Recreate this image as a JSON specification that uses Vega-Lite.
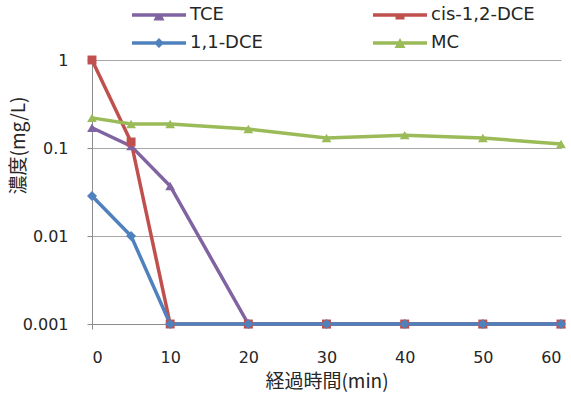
{
  "$schema": "https://vega.github.io/schema/vega-lite/v6.json",
  "width": 469,
  "height": 264,
  "autosize": "none",
  "padding": {"left": 92, "top": 60, "right": 10, "bottom": 76},
  "background": "white",
  "config": {
    "view": {"stroke": null},
    "font": "Noto Sans CJK JP",
    "axis": {
      "labelFont": "DejaVu Sans",
      "titleFont": "Noto Sans CJK JP",
      "labelFontSize": 16,
      "titleFontSize": 19,
      "labelColor": "#262626",
      "titleColor": "#262626",
      "titleFontWeight": "normal",
      "domainColor": "#8c8c8c",
      "tickColor": "#8c8c8c",
      "gridColor": "#a6a6a6",
      "domainWidth": 1,
      "gridWidth": 1
    },
    "legend": {
      "labelFont": "DejaVu Sans",
      "labelFontSize": 18,
      "labelColor": "#262626"
    }
  },
  "data": {
    "values": [
      {"t": 0, "series": "TCE", "value": 0.17},
      {"t": 5, "series": "TCE", "value": 0.105},
      {"t": 10, "series": "TCE", "value": 0.037},
      {"t": 20, "series": "TCE", "value": 0.001},
      {"t": 30, "series": "TCE", "value": 0.001},
      {"t": 40, "series": "TCE", "value": 0.001},
      {"t": 50, "series": "TCE", "value": 0.001},
      {"t": 60, "series": "TCE", "value": 0.001},
      {"t": 0, "series": "cis-1,2-DCE", "value": 1},
      {"t": 5, "series": "cis-1,2-DCE", "value": 0.117},
      {"t": 10, "series": "cis-1,2-DCE", "value": 0.001},
      {"t": 20, "series": "cis-1,2-DCE", "value": 0.001},
      {"t": 30, "series": "cis-1,2-DCE", "value": 0.001},
      {"t": 40, "series": "cis-1,2-DCE", "value": 0.001},
      {"t": 50, "series": "cis-1,2-DCE", "value": 0.001},
      {"t": 60, "series": "cis-1,2-DCE", "value": 0.001},
      {"t": 0, "series": "1,1-DCE", "value": 0.0285},
      {"t": 5, "series": "1,1-DCE", "value": 0.01},
      {"t": 10, "series": "1,1-DCE", "value": 0.001},
      {"t": 20, "series": "1,1-DCE", "value": 0.001},
      {"t": 30, "series": "1,1-DCE", "value": 0.001},
      {"t": 40, "series": "1,1-DCE", "value": 0.001},
      {"t": 50, "series": "1,1-DCE", "value": 0.001},
      {"t": 60, "series": "1,1-DCE", "value": 0.001},
      {"t": 0, "series": "MC", "value": 0.22},
      {"t": 5, "series": "MC", "value": 0.187},
      {"t": 10, "series": "MC", "value": 0.187},
      {"t": 20, "series": "MC", "value": 0.164},
      {"t": 30, "series": "MC", "value": 0.13},
      {"t": 40, "series": "MC", "value": 0.14},
      {"t": 50, "series": "MC", "value": 0.13},
      {"t": 60, "series": "MC", "value": 0.111}
    ]
  },
  "encoding": {
    "x": {
      "field": "t",
      "type": "quantitative",
      "scale": {"domain": [0, 60], "nice": false},
      "axis": {
        "values": [0, 10, 20, 30, 40, 50, 60],
        "title": "経過時間(min)",
        "grid": false,
        "tickSize": 5,
        "tickColor": {"condition": {"test": "datum.value == 0", "value": "#8c8c8c"}, "value": "transparent"},
        "labelPadding": 20,
        "titlePadding": 7
      }
    },
    "y": {
      "field": "value",
      "type": "quantitative",
      "scale": {"type": "log", "domain": [0.001, 1], "nice": false},
      "axis": {
        "values": [0.001, 0.01, 0.1, 1],
        "labelExpr": "format(datum.value, '~g')",
        "title": "濃度(mg/L)",
        "grid": true,
        "tickSize": 5,
        "labelPadding": 19,
        "titleX": -74,
        "titleY": 85,
        "titleAngle": -90,
        "titleAlign": "center",
        "titleBaseline": "middle"
      }
    },
    "color": {
      "field": "series",
      "type": "nominal",
      "scale": {
        "domain": ["TCE", "cis-1,2-DCE", "1,1-DCE", "MC"],
        "range": ["#8064A2", "#C0504D", "#4F81BD", "#9BBB59"]
      },
      "legend": {
        "title": null,
        "orient": "none",
        "legendX": 40,
        "legendY": -55,
        "columns": 2,
        "direction": "horizontal",
        "columnPadding": 110,
        "rowPadding": 9,
        "symbolSize": 400,
        "symbolStrokeWidth": 0,
        "labelOffset": 38,
        "encode": {
          "symbols": {
            "update": {
              "size": {"value": 400},
              "x": {"value": 27},
              "strokeWidth": {"value": 0},
              "opacity": {"value": 1},
              "fill": {"scale": "color", "field": "value"},
              "shape": {"signal": "datum.value === 'TCE' ? 'M-2.7,-0.18H2.7V0.18H-2.7Z M-0.27,0L0.27,0L0.55,0.55L-0.55,0.55Z' : datum.value === 'cis-1,2-DCE' ? 'M-2.7,-0.18H2.7V0.18H-2.7Z M-0.45,0H0.45V0.45H-0.45Z' : datum.value === '1,1-DCE' ? 'M-2.7,-0.18H2.7V0.18H-2.7Z M0,-0.5L0.5,0L0,0.5L-0.5,0Z' : 'M-2.7,-0.18H2.7V0.18H-2.7Z M0,-0.5L0.55,0.5L-0.55,0.5Z'"}
            }
          }
        }
      }
    }
  },
  "layer": [
    {
      "mark": {"type": "line", "strokeWidth": 3.5}
    },
    {
      "transform": [{"filter": "datum.series === 'TCE' || datum.series === 'MC'"}],
      "mark": {"type": "point", "shape": "triangle-up", "filled": true, "opacity": 1, "size": 95}
    },
    {
      "transform": [{"filter": "datum.series === 'cis-1,2-DCE'"}],
      "mark": {"type": "point", "shape": "square", "filled": true, "opacity": 1, "size": 80}
    },
    {
      "transform": [{"filter": "datum.series === '1,1-DCE'"}],
      "mark": {"type": "point", "shape": "diamond", "filled": true, "opacity": 1, "size": 100}
    }
  ]
}
